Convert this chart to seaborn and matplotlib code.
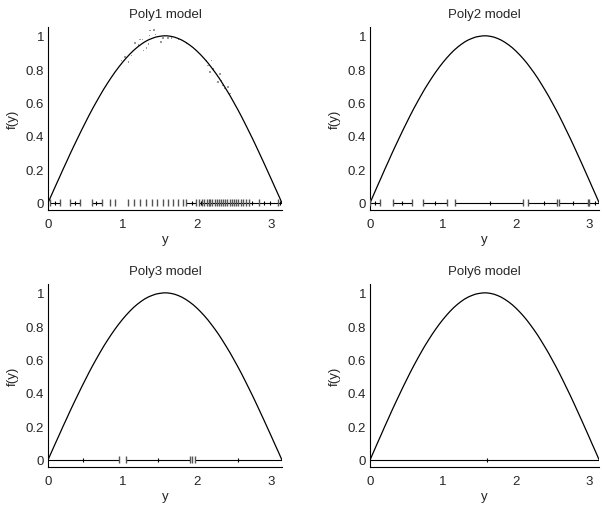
import numpy as np
import pandas as pd
import matplotlib
matplotlib.use('Agg')
import matplotlib.pyplot as plt
import seaborn as sns

# fitted curve f(y) (same shape in every panel)
curve_y = [0.00, 0.05, 0.10, 0.15, 0.20, 0.25, 0.30, 0.35, 0.40, 0.45, 0.50, 0.55, 0.60, 0.65,
           0.70, 0.75, 0.80, 0.85, 0.90, 0.95, 1.00, 1.05, 1.10, 1.15, 1.20, 1.25, 1.30, 1.35,
           1.40, 1.45, 1.50, 1.55, 1.60, 1.65, 1.70, 1.75, 1.80, 1.85, 1.90, 1.95, 2.00, 2.05,
           2.10, 2.15, 2.20, 2.25, 2.30, 2.35, 2.40, 2.45, 2.50, 2.55, 2.60, 2.65, 2.70, 2.75,
           2.80, 2.85, 2.90, 2.95, 3.00, 3.05, 3.10, 3.1416]
curve_f = [0.000, 0.050, 0.100, 0.149, 0.199, 0.247, 0.296, 0.343, 0.389, 0.435, 0.479, 0.523,
           0.565, 0.605, 0.644, 0.682, 0.717, 0.751, 0.783, 0.813, 0.841, 0.867, 0.891, 0.913,
           0.932, 0.949, 0.964, 0.976, 0.985, 0.993, 0.997, 1.000, 1.000, 0.997, 0.992, 0.984,
           0.974, 0.961, 0.946, 0.929, 0.909, 0.887, 0.863, 0.837, 0.808, 0.778, 0.746, 0.711,
           0.675, 0.638, 0.598, 0.558, 0.516, 0.472, 0.427, 0.382, 0.335, 0.287, 0.239, 0.190,
           0.141, 0.091, 0.042, 0.000]

# noisy samples shown in the Poly1 panel
pts_y = [1.369, 1.427, 1.360, 1.445, 1.235, 1.271, 1.168, 1.213, 1.280, 1.324, 1.347,
         1.034, 1.079, 0.989, 1.123, 1.517, 1.548, 1.615, 1.660, 1.750, 1.861,
         2.130, 2.197, 2.152, 2.219, 2.174, 2.309, 2.331, 2.286, 2.353, 2.420, 2.376, 2.443]
pts_f = [1.032, 1.036, 1.002, 1.008, 0.978, 0.978, 0.958, 0.946, 0.912, 0.926, 0.952,
         0.872, 0.842, 0.852, 0.882, 0.962, 0.988, 0.988, 0.988, 0.978, 0.958,
         0.852, 0.852, 0.822, 0.802, 0.783, 0.772, 0.732, 0.722, 0.702, 0.692, 0.683, 0.653]

# piece spans, break positions and centre ticks for each model
p1_lo = [0.03, 0.30, 0.59, 1.86, 2.03]
p1_hi = [0.16, 0.43, 0.72, 1.99, 3.14]
p1_breaks = [0.03, 0.16, 0.30, 0.43, 0.59, 0.72, 0.83, 0.90, 1.07, 1.15, 1.24, 1.32, 1.39, 1.46,
             1.54, 1.61, 1.68, 1.75, 1.81, 1.86, 1.99, 2.03, 2.07, 2.10, 2.13, 2.16, 2.18, 2.21,
             2.24, 2.27, 2.30, 2.32, 2.35, 2.38, 2.41, 2.44, 2.47, 2.50, 2.53, 2.56, 2.59, 2.62,
             2.66, 2.70, 2.83, 3.09]
p1_ticks = [0.09, 0.36, 0.65, 1.93, 2.05, 2.74, 2.90, 2.99, 3.12]

p2_lo = [0.0, 0.31, 0.72, 1.16, 2.17, 2.59, 2.99]
p2_hi = [0.14, 0.57, 1.05, 2.10, 2.56, 2.99, 3.14]
p2_breaks = [0.0, 0.14, 0.31, 0.57, 0.72, 1.05, 1.16, 2.10, 2.17, 2.56, 2.59, 2.99, 3.01]
p2_ticks = [0.07, 0.43, 0.89, 1.64, 2.39, 2.78, 3.08]

p3_lo = [0.0, 1.05, 1.97]
p3_hi = [0.955, 1.91, 3.14]
p3_breaks = [0.955, 1.05, 1.91, 1.94, 1.97]
p3_ticks = [0.47, 1.48, 2.56]

p6_lo = [0.0]
p6_hi = [3.14]
p6_breaks = []
p6_ticks = [1.60]

titles = ['Poly1 model', 'Poly2 model', 'Poly3 model', 'Poly6 model']
yticks = [0, 0.2, 0.4, 0.6, 0.8, 1]
ytick_labels = ['0', '0.2', '0.4', '0.6', '0.8', '1']
xticks = [0, 1, 2, 3]

sns.set_style('white')
plt.rcParams['font.family'] = ['Liberation Sans', 'DejaVu Sans']
plt.rcParams['font.size'] = 9.5

fig = plt.figure(figsize=(6.02, 5.06), dpi=100)
boxes = [[0.080, 0.583, 0.388, 0.362], [0.615, 0.583, 0.380, 0.362],
         [0.080, 0.075, 0.388, 0.362], [0.615, 0.075, 0.380, 0.362]]
pieces = [(p1_lo, p1_hi, p1_breaks, p1_ticks), (p2_lo, p2_hi, p2_breaks, p2_ticks),
          (p3_lo, p3_hi, p3_breaks, p3_ticks), (p6_lo, p6_hi, p6_breaks, p6_ticks)]

curve = pd.DataFrame({'y': curve_y, 'f': curve_f})
samples = pd.DataFrame({'y': pts_y, 'f': pts_f})

for i, (box, (lo, hi, brk, tck)) in enumerate(zip(boxes, pieces)):
    ax = fig.add_axes(box)
    if i == 0:
        sns.scatterplot(data=samples, x='y', y='f', ax=ax, s=1.2, color='#999999',
                        edgecolor='none', marker='s', zorder=2)
    sns.lineplot(data=curve, x='y', y='f', ax=ax, color='black', lw=0.9, zorder=3)
    ax.hlines(np.zeros(len(lo)), lo, hi, color='black', lw=0.8, zorder=3)
    if brk:
        ax.vlines(brk, -0.022, 0.022, color='#555555', lw=1.0, zorder=3)
    ax.vlines(tck, -0.012, 0.012, color='black', lw=0.8, zorder=4)

    ax.set_xlim(0, np.pi)
    ax.set_ylim(-0.045, 1.054)
    ax.set_xticks(xticks)
    ax.set_yticks(yticks)
    ax.set_yticklabels(ytick_labels)
    ax.tick_params(direction='in', length=3, width=0.6, labelsize=9.5)
    ax.tick_params(axis='x', pad=6)
    ax.tick_params(axis='y', pad=3)
    for side in ['top', 'right']:
        ax.spines[side].set_visible(False)
    for side in ['left', 'bottom']:
        ax.spines[side].set_color('black')
        ax.spines[side].set_linewidth(0.8)
    ax.set_title(titles[i], fontsize=9.5, pad=7)
    ax.set_xlabel('y', fontsize=9.5, labelpad=2)
    ax.set_ylabel('f(y)', fontsize=9.5, labelpad=5)

fig.savefig('out.png', dpi=100)
